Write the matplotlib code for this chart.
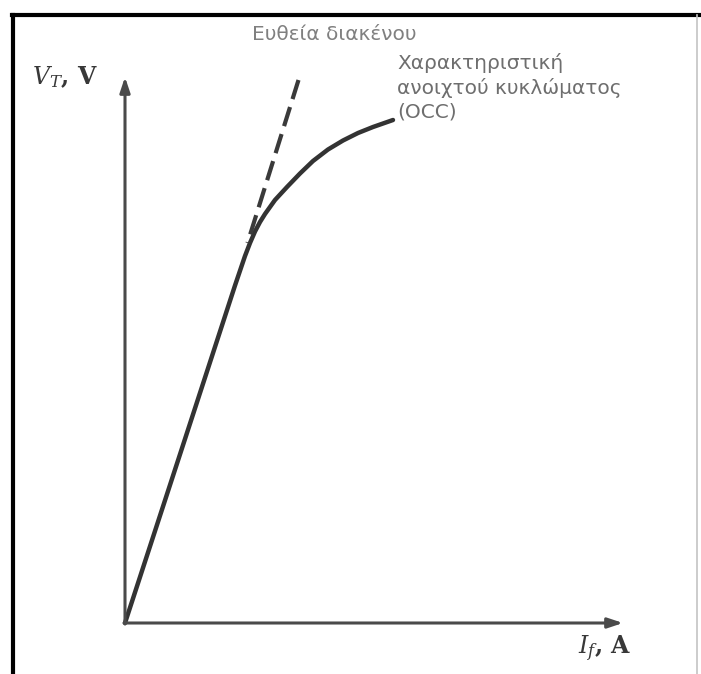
import matplotlib
matplotlib.use("Agg")
import matplotlib.pyplot as plt
from matplotlib.lines import Line2D

# Open-circuit characteristic (field current vs terminal voltage, arbitrary units)
occ_if = [0.0, 1.2, 2.2, 2.4, 2.5, 2.6, 2.7, 2.8, 3.0, 3.24, 3.5, 3.76, 4.06, 4.36, 4.66, 4.96, 5.36]
occ_vt = [0.0, 3.68, 6.75, 7.34, 7.60, 7.83, 8.02, 8.18, 8.46, 8.72, 8.99, 9.24, 9.47, 9.65, 9.80, 9.92, 10.06]

# Air-gap line (extension of the linear part), drawn from its upper end down
gap_if = [3.47, 2.45]
gap_vt = [10.86, 7.6]

axis_x_end = 9.96
axis_y_end = 10.92

title_gap = "Ευθεία διακένου"
title_occ = "Χαρακτηριστική\nανοιχτού κυκλώματος\n(OCC)"

W, H = 701, 674
fig = plt.figure(figsize=(W / 100, H / 100), dpi=100)
fig.patch.set_facecolor("white")

# origin of the graph sits at pixel (125, 623); 50 px per unit
ox, oy, s = 125, 623, 50.0
ax = fig.add_axes([0, 0, 1, 1])
ax.set_xlim(-ox / s, (W - ox) / s)
ax.set_ylim(-(H - oy) / s, oy / s)
ax.axis("off")

# outer frame
ft = fig.transFigure
def fx(px):
    return px / W
def fy(py):
    return 1 - py / H
fig.add_artist(Line2D([fx(13), fx(13)], [fy(15), fy(680)], transform=ft, color="black", lw=3.0))
fig.add_artist(Line2D([fx(11.5), fx(700)], [fy(15), fy(15)], transform=ft, color="black", lw=3.0))
fig.add_artist(Line2D([fx(697), fx(697)], [fy(15), fy(680)], transform=ft, color="#c4c4c4", lw=1.2))

axis_col = "#4a4a4a"
# axes with arrows
ax.annotate("", xy=(axis_x_end, 0), xytext=(-0.02, 0),
            arrowprops=dict(arrowstyle="-|>,head_length=0.9,head_width=0.3",
                            color=axis_col, lw=2.2, shrinkA=0, shrinkB=0))
ax.annotate("", xy=(0, axis_y_end), xytext=(0, -0.02),
            arrowprops=dict(arrowstyle="-|>,head_length=0.9,head_width=0.3",
                            color=axis_col, lw=2.2, shrinkA=0, shrinkB=0))

# curves
ax.plot(occ_if, occ_vt, color="#333333", lw=3.2, solid_capstyle="round",
        solid_joinstyle="round")
ax.plot(gap_if, gap_vt, color="#3a3a3a", lw=3.0, dashes=(4.8, 2.0))

plt.rcParams["mathtext.fontset"] = "dejavuserif"
ax.text(-1.86, 10.92, r"$V_T$, V", fontsize=17, fontweight="bold", family="DejaVu Serif",
        color="#383838", ha="left", va="center")
ax.text(9.06, -0.52, r"$I_f$, A", fontsize=17, fontweight="bold", family="DejaVu Serif",
        color="#383838", ha="left", va="center")

ax.text(4.18, 11.78, title_gap, fontsize=14.5, color="#808080", ha="center", va="center",
        family="DejaVu Sans")
ax.text(5.44, 11.4, title_occ, fontsize=14.5, color="#6e6e6e", ha="left", va="top",
        family="DejaVu Sans", linespacing=1.3)

fig.savefig("out.png", dpi=100, facecolor="white")
